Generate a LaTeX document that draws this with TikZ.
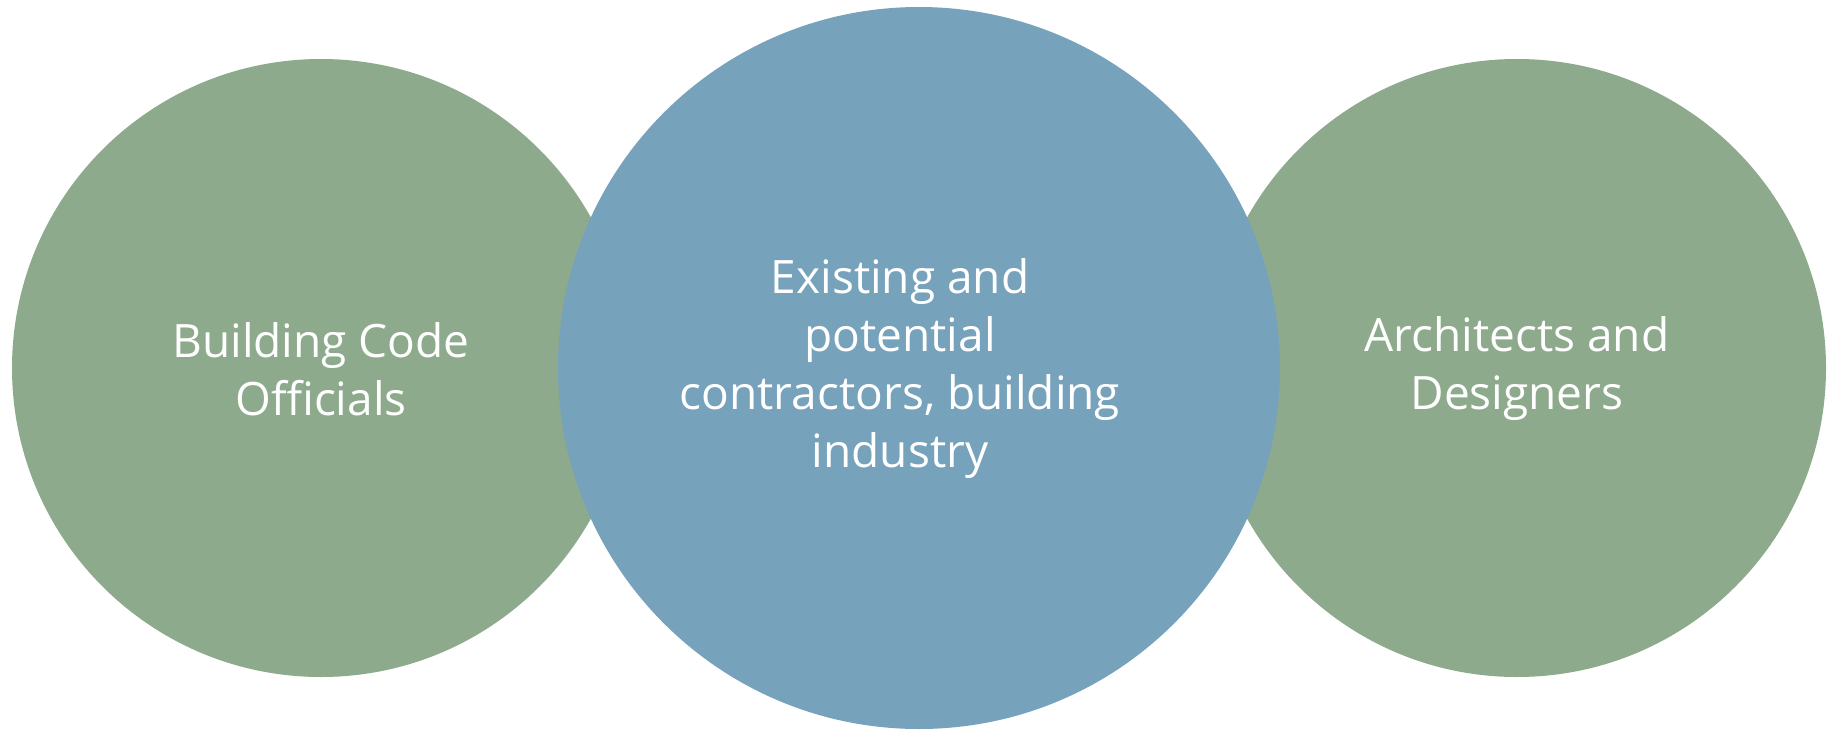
\documentclass[tikz,border=0pt]{standalone}
\usepackage{fontspec}
\setmainfont{Open Sans}
\definecolor{sage}{RGB}{141,171,140}
\definecolor{steel}{RGB}{118,162,188}
\begin{document}
\begin{tikzpicture}[x=1pt,y=-1pt,
  bubble/.style={circle,inner sep=0pt,outer sep=0pt,draw=none},
  lbl/.style={align=center,text=white,inner sep=0pt,font=\fontsize{46}{58}\selectfont}]
\useasboundingbox (0,0) rectangle (1832,731);
\node[bubble,fill=sage,minimum size=618pt] (left) at (321,368) {};
\node[bubble,fill=sage,minimum size=618pt] (right) at (1517,368) {};
\node[bubble,fill=steel,minimum size=722pt] (mid) at (919,368) {};
\node[lbl] (tleft) at (321,369) {Building Code\\Officials};
\node[lbl] (tright) at (1517,369) {Architects and\\Designers};
\node[lbl] (tmid) at (900,369) {Existing and\\potential\\contractors, building\\industry};
\end{tikzpicture}
\end{document}
